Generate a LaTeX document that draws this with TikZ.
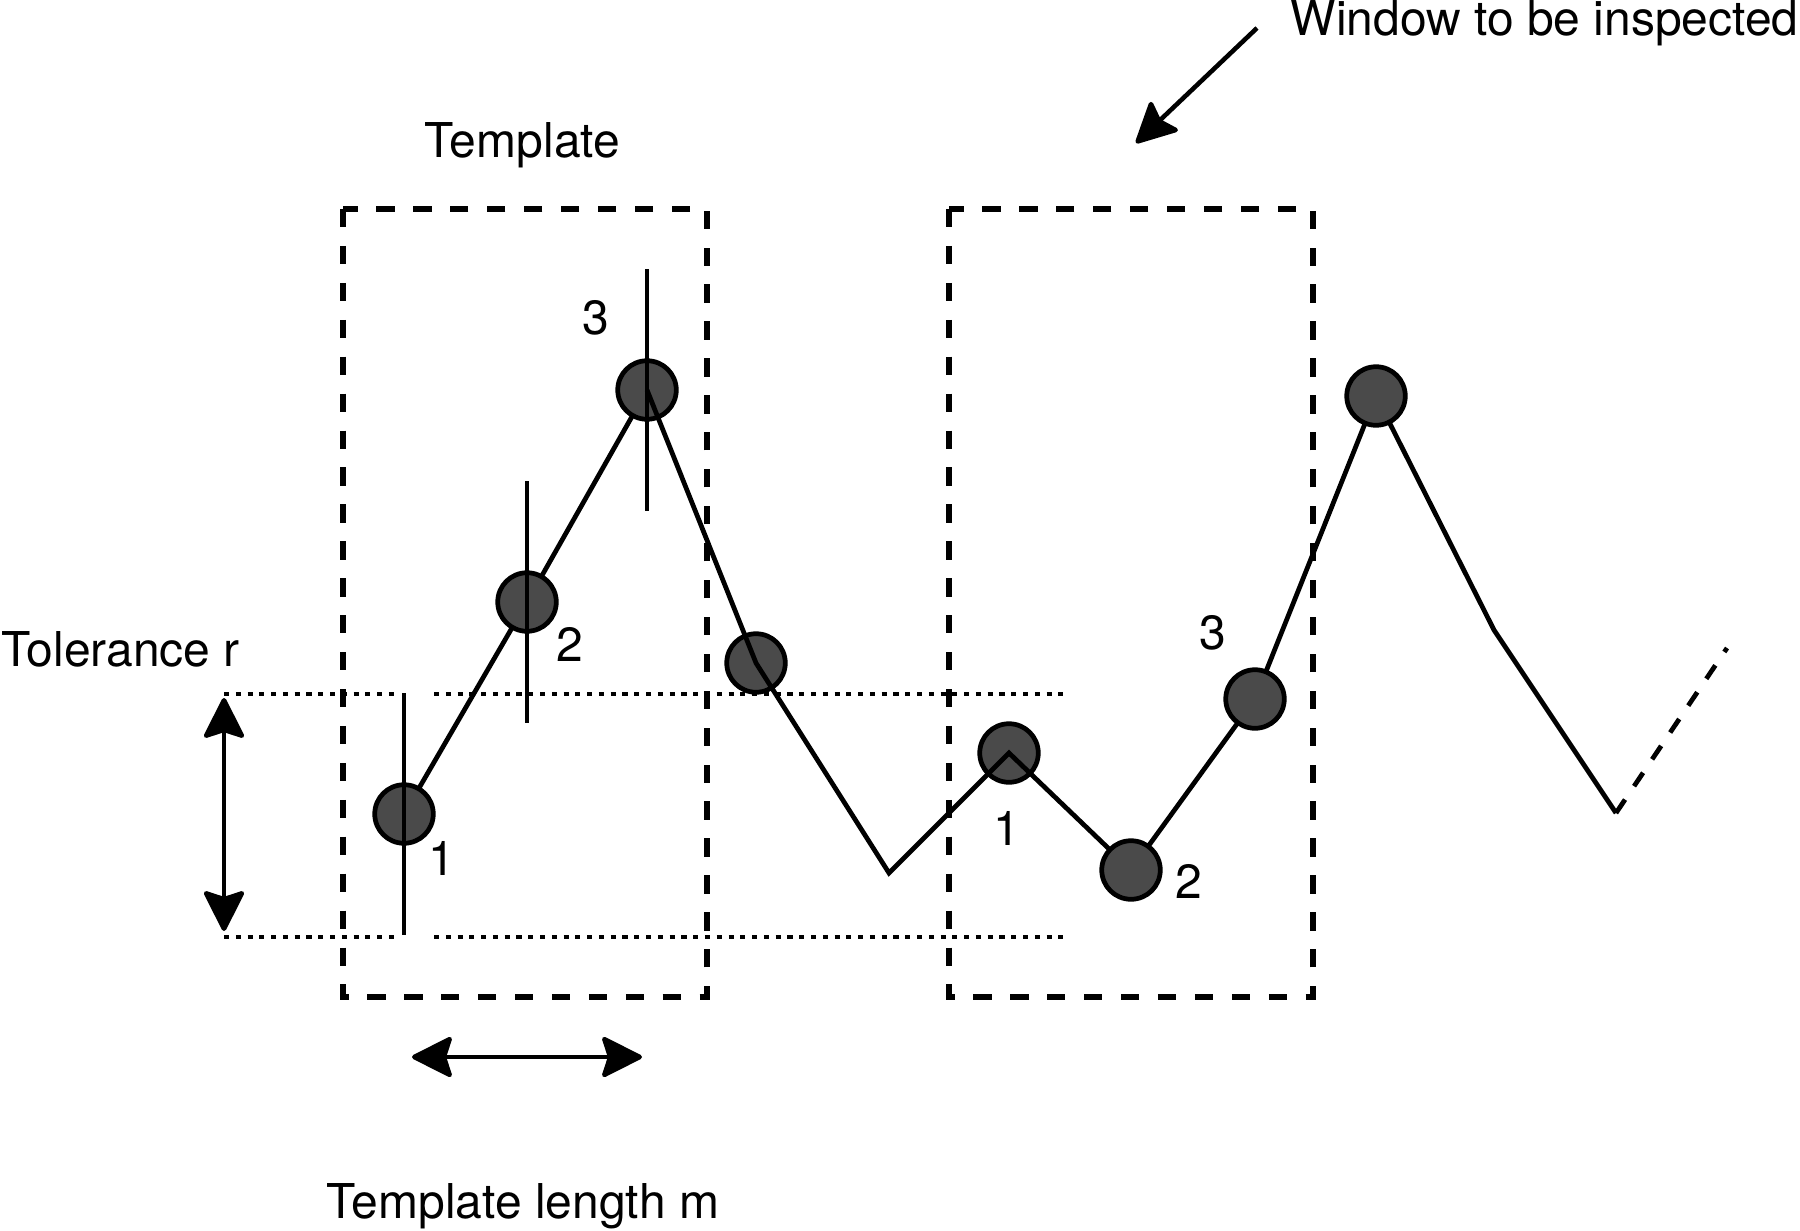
\documentclass[tikz,border=0pt]{standalone}
\usepackage{fontspec}
\setmainfont{TeX Gyre Heros}
\usetikzlibrary{arrows.meta}
\definecolor{dotgray}{HTML}{4A4A4A}
\pgfdeclarelayer{back}
\pgfdeclarelayer{lowdots}
\pgfdeclarelayer{mid}
\pgfdeclarelayer{front}
\pgfsetlayers{back,lowdots,mid,main,front}
\tikzset{
  lbl/.style={inner sep=0pt, font=\fontsize{13.65pt}{16pt}\selectfont},
  dot/.style={circle, draw=black, fill=dotgray, line width=1.35pt, minimum size=0.585cm, inner sep=0pt},
  curve/.style={line width=1.35pt, line join=miter},
  bar/.style={line width=1.05pt},
  boxdash/.style={line width=1.5pt, dash pattern=on 5.2pt off 5.3pt},
  segdash/.style={line width=1.35pt, dash pattern=on 4.6pt off 4.6pt},
  tol/.style={line width=1.4pt, dash pattern=on 1.45pt off 1.9pt},
  bigarrow/.style={line width=1.3pt, {Stealth[length=4.4mm,width=4.4mm,inset=0.7mm,round]}-{Stealth[length=4.4mm,width=4.4mm,inset=0.7mm,round]}},
  onearrow/.style={line width=1.3pt, -{Stealth[length=4.4mm,width=4.4mm,inset=0.7mm,round]}}
}
\begin{document}
\begin{tikzpicture}[x=0.01cm, y=-0.01cm]
\useasboundingbox (0,0) rectangle (1800,1230);

% data points
\begin{pgfonlayer}{lowdots}
\node[dot] (c3) at (647,390) {};
\node[dot] (c4) at (756,663) {};
\node[dot] (c5) at (1009,753) {};
\end{pgfonlayer}
\node[dot] (c1) at (404,814) {};
\node[dot] (c2) at (527,602) {};
\node[dot] (c6) at (1131,870) {};
\node[dot] (c7) at (1255,699) {};
\node[dot] (c8) at (1376,396) {};
\coordinate (v1) at (889,873);
\coordinate (k) at (1494,630);
\coordinate (v2) at (1616,813);
\coordinate (e) at (1727,648);

% boxes and tolerance lines
\coordinate (tA) at (343,209);
\coordinate (tB) at (707,997);
\coordinate (wA) at (949,209);
\coordinate (wB) at (1313,997);
\coordinate (d1a) at (224,694);
\coordinate (d1b) at (400,694);
\coordinate (d2a) at (434,694);
\coordinate (d2b) at (1070,694);
\coordinate (d3a) at (224,937);
\coordinate (d3b) at (400,937);
\coordinate (d4a) at (434,937);
\coordinate (d4b) at (1070,937);
\begin{pgfonlayer}{back}
\draw[boxdash] (tA) rectangle (tB);
\draw[boxdash] (wA) rectangle (wB);
\draw[tol] (d1a) -- (d1b);
\draw[tol] (d2a) -- (d2b);
\draw[tol] (d3a) -- (d3b);
\draw[tol] (d4a) -- (d4b);
\draw[curve] (c1.center) -- (c2.center) -- (c3.center);
\end{pgfonlayer}

\begin{pgfonlayer}{mid}
\draw[curve] (c3.center) -- (c4.center) -- (v1) -- (c5.center) -- (c6.center) -- (c7.center) -- (c8.center) -- (k) -- (v2);
\end{pgfonlayer}
\draw[segdash] (v2) -- (e);

% tolerance bars
\begin{pgfonlayer}{front}
\draw[bar] (c1.center) ++(0,-121) -- ++(0,242);
\draw[bar] (c2.center) ++(0,-121) -- ++(0,242);
\draw[bar] (c3.center) ++(0,-121) -- ++(0,242);
\end{pgfonlayer}

% point labels
\node[lbl] (n1) at (442,858) {1};
\node[lbl] (n2) at (570,644) {2};
\node[lbl] (n3) at (596,318) {3};
\node[lbl] (m1) at (1007,828) {1};
\node[lbl] (m2) at (1189,881) {2};
\node[lbl] (m3) at (1213,633) {3};

% arrows
\coordinate (rt) at (224,698);
\coordinate (rb) at (224,931);
\draw[bigarrow] (rt) -- (rb);
\coordinate (ml) at (412,1057);
\coordinate (mr) at (642,1057);
\draw[bigarrow] (ml) -- (mr);
\coordinate (wa) at (1257,28);
\coordinate (wb) at (1136,143);
\draw[onearrow] (wa) -- (wb);

% texts
\node[lbl, anchor=base west] (win) at (1290,35) {Window to be inspected};
\node[lbl, anchor=base] (tpl) at (522.5,157) {Template};
\node[lbl, anchor=base] (tlen) at (523,1218) {Template length m};
\node[lbl, anchor=base west] (tolr) at (1,666) {Tolerance r};
\end{tikzpicture}
\end{document}
